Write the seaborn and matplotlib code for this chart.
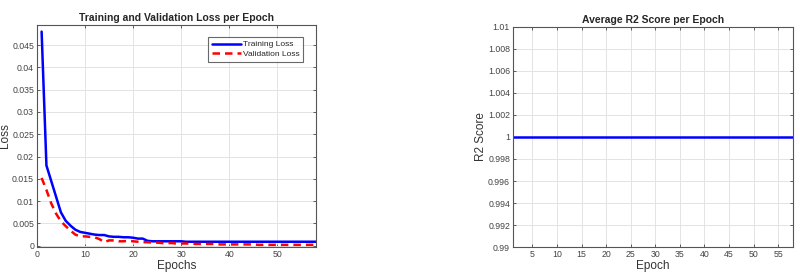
import numpy as np
import pandas as pd
import matplotlib
matplotlib.use("Agg")
import matplotlib.pyplot as plt
import seaborn as sns

epochs = list(range(1, 59))
train_loss = [0.048, 0.018, 0.0145, 0.011, 0.0075, 0.0056, 0.0045, 0.0036, 0.0031, 0.0029,
              0.0027, 0.0025, 0.0024, 0.0024, 0.0021, 0.0020, 0.0020, 0.0019, 0.0019, 0.0018,
              0.0016, 0.0016, 0.0011, 0.0010, 0.0010, 0.0010, 0.0010, 0.0010, 0.0010, 0.0010,
              0.0009, 0.0009, 0.0009, 0.0009, 0.0009, 0.0009, 0.0009, 0.0009, 0.0009, 0.0009,
              0.0009, 0.0009, 0.0009, 0.0009, 0.0009, 0.0009, 0.0009, 0.0009, 0.0009, 0.0009,
              0.0009, 0.0009, 0.0009, 0.0009, 0.0009, 0.0009, 0.0009, 0.0009]
val_loss = [0.0152, 0.0125, 0.0095, 0.0072, 0.0055, 0.0044, 0.0034, 0.0025, 0.0021, 0.0021,
            0.0020, 0.0019, 0.0015, 0.0008, 0.0012, 0.0012, 0.0010, 0.0010, 0.0011, 0.0010,
            0.0009, 0.0008, 0.0008, 0.0007, 0.0007, 0.0006, 0.0006, 0.0006, 0.0005, 0.0005,
            0.0005, 0.0005, 0.0004, 0.0004, 0.0004, 0.0004, 0.0004, 0.0003, 0.0003, 0.0003,
            0.0003, 0.0003, 0.0003, 0.0003, 0.0003, 0.0002, 0.0002, 0.0002, 0.0002, 0.0002,
            0.0002, 0.0002, 0.0002, 0.0002, 0.0002, 0.0002, 0.0002, 0.0002]
r2_score = [1.0] * 58

loss_yticks = [0, 0.005, 0.01, 0.015, 0.02, 0.025, 0.03, 0.035, 0.04, 0.045]
loss_yticklabels = ["0", "0.005", "0.01", "0.015", "0.02", "0.025", "0.03", "0.035", "0.04", "0.045"]
loss_xticks = [0, 10, 20, 30, 40, 50]
r2_yticks = [0.99, 0.992, 0.994, 0.996, 0.998, 1.0, 1.002, 1.004, 1.006, 1.008, 1.01]
r2_yticklabels = ["0.99", "0.992", "0.994", "0.996", "0.998", "1", "1.002", "1.004", "1.006", "1.008", "1.01"]
r2_xticks = [5, 10, 15, 20, 25, 30, 35, 40, 45, 50, 55]

sns.set_theme(style="whitegrid")
plt.rcParams['font.family'] = ['Liberation Sans', 'DejaVu Sans']

df = pd.DataFrame({"Epoch": epochs, "Training Loss": train_loss,
                   "Validation Loss": val_loss, "R2": r2_score})

fig = plt.figure(figsize=(8, 2.77), dpi=100)
ax1 = fig.add_axes([0.046, 0.108, 0.349, 0.802])
ax2 = fig.add_axes([0.641, 0.108, 0.35, 0.795])

sns.lineplot(data=df, x="Epoch", y="Training Loss", ax=ax1, color="#0000ff",
             linewidth=1.8, label="Training Loss")
sns.lineplot(data=df, x="Epoch", y="Validation Loss", ax=ax1, color="#ff0000",
             linewidth=1.8, linestyle=(0, (3, 2)), label="Validation Loss")
ax1.set_xlim(0, 58)
ax1.set_ylim(-0.0003, 0.0495)
ax1.set_xticks(loss_xticks)
ax1.set_yticks(loss_yticks)
ax1.set_yticklabels(loss_yticklabels)
ax1.set_title("Training and Validation Loss per Epoch", fontsize=7.5, fontweight="bold", pad=3)
ax1.set_xlabel("Epochs", fontsize=8.5, labelpad=1, color="#333333")
ax1.set_ylabel("Loss", fontsize=8.5, labelpad=1, color="#333333")
leg = ax1.legend(loc="upper right", bbox_to_anchor=(0.97, 0.965), fontsize=6,
                 frameon=True, fancybox=False, handlelength=3.4, borderpad=0.45,
                 labelspacing=0.25, handletextpad=0.3)
leg.get_frame().set_edgecolor("#444444")
leg.get_frame().set_linewidth(0.8)

sns.lineplot(data=df, x="Epoch", y="R2", ax=ax2, color="#0000ff", linewidth=1.8)
ax2.set_xlim(1, 58)
ax2.set_ylim(0.99, 1.01)
ax2.set_xticks(r2_xticks)
ax2.set_yticks(r2_yticks)
ax2.set_yticklabels(r2_yticklabels)
ax2.set_title("Average R2 Score per Epoch", fontsize=7.5, fontweight="bold", pad=3)
ax2.set_xlabel("Epoch", fontsize=8.5, labelpad=1, color="#333333")
ax2.set_ylabel("R2 Score", fontsize=8.5, labelpad=1, color="#333333")

for ax in (ax1, ax2):
    ax.set_facecolor("white")
    ax.grid(True, color="#e3e3e3", linewidth=0.7)
    ax.tick_params(axis="both", which="both", direction="in", length=2.5, width=0.6,
                   labelsize=6.3, colors="#444444", pad=2,
                   top=True, right=True, bottom=True, left=True)
    for s in ax.spines.values():
        s.set_visible(True)
        s.set_color("#555555")
        s.set_linewidth(0.8)

fig.savefig("out.png", dpi=100, facecolor="white")
